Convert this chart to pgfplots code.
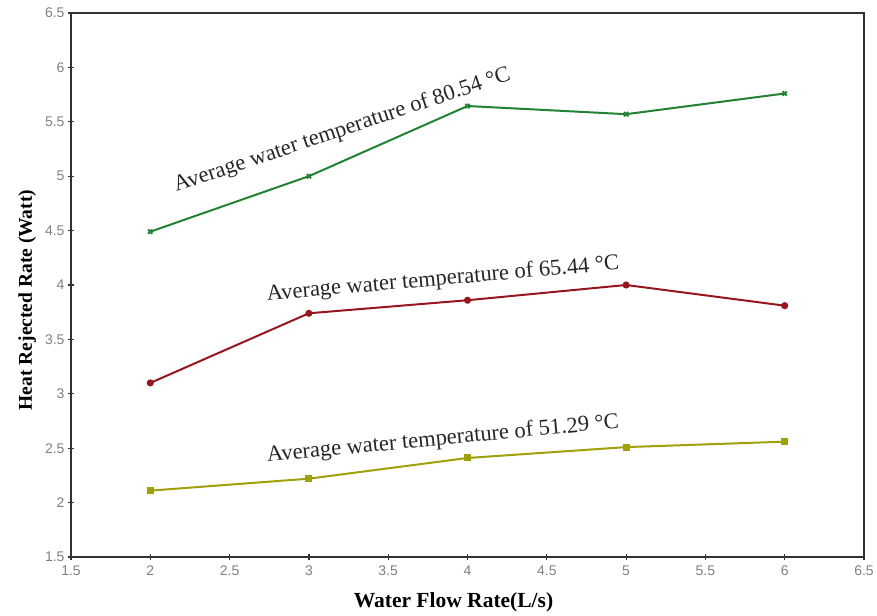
\documentclass[border=0pt]{standalone}
\usepackage{pgfplots}
\pgfplotsset{compat=1.18}
\usepackage{fontspec}
\setmainfont{Liberation Serif}
\setsansfont{Liberation Sans}
\definecolor{cgreen}{RGB}{34,130,52}
\definecolor{cred}{RGB}{150,22,32}
\definecolor{cyellow}{RGB}{160,160,10}
\definecolor{axgray}{RGB}{50,50,50}
\begin{document}
\begin{tikzpicture}
\begin{axis}[
  scale only axis,
  width=793pt, height=544pt,
  xmin=1.5, xmax=6.5, ymin=1.5, ymax=6.5,
  xtick={1.5,2,...,6.5}, ytick={1.5,2,...,6.5},
  xticklabels={1.5,2,2.5,3,3.5,4,4.5,5,5.5,6,6.5},
  yticklabels={1.5,2,2.5,3,3.5,4,4.5,5,5.5,6,6.5},
  tick align=center,
  xtick pos=bottom, ytick pos=left,
  major tick length=6pt,
  tick style={axgray, line width=1.2pt},
  axis line style={axgray, line width=2pt},
  ticklabel style={font=\sffamily\fontsize{14}{14}\selectfont, text=gray},
  xticklabel style={yshift=-2pt},
  xlabel={\bfseries Water Flow Rate(L/s)},
  ylabel={\bfseries Heat Rejected Rate (Watt)},
  xlabel style={font=\fontsize{21.5}{21.5}\selectfont, yshift=-10pt, xshift=-14pt},
  ylabel style={font=\fontsize{19.5}{19.5}\selectfont, yshift=2pt, xshift=-15pt},
  clip=false,
]
\addplot[cgreen, line width=2pt, mark=x, mark size=3pt] coordinates {
  (2,4.49) (3,5.00) (4,5.645) (5,5.57) (6,5.76)};
\addplot[cred, line width=2pt, mark=*, mark size=2.5pt] coordinates {
  (2,3.10) (3,3.74) (4,3.86) (5,4.00) (6,3.81)};
\addplot[cyellow, line width=2pt, mark=square*, mark size=2.5pt] coordinates {
  (2,2.11) (3,2.22) (4,2.41) (5,2.51) (6,2.56)};
\node[rotate=18.5, font=\fontsize{22.5}{22.5}\selectfont, text=black!85] at (axis cs:3.21,5.42) {Average water temperature of 80.54 °C};
\node[rotate=5, font=\fontsize{22.5}{22.5}\selectfont, text=black!85] at (axis cs:3.845,4.05) {Average water temperature of 65.44 °C};
\node[rotate=5.5, font=\fontsize{22.5}{22.5}\selectfont, text=black!85] at (axis cs:3.845,2.58) {Average water temperature of 51.29 °C};
\end{axis}
\pgfresetboundingbox
\path ([xshift=-71pt,yshift=-58pt]current axis.south west) rectangle ([xshift=13pt,yshift=13pt]current axis.north east);
\end{tikzpicture}
\end{document}
